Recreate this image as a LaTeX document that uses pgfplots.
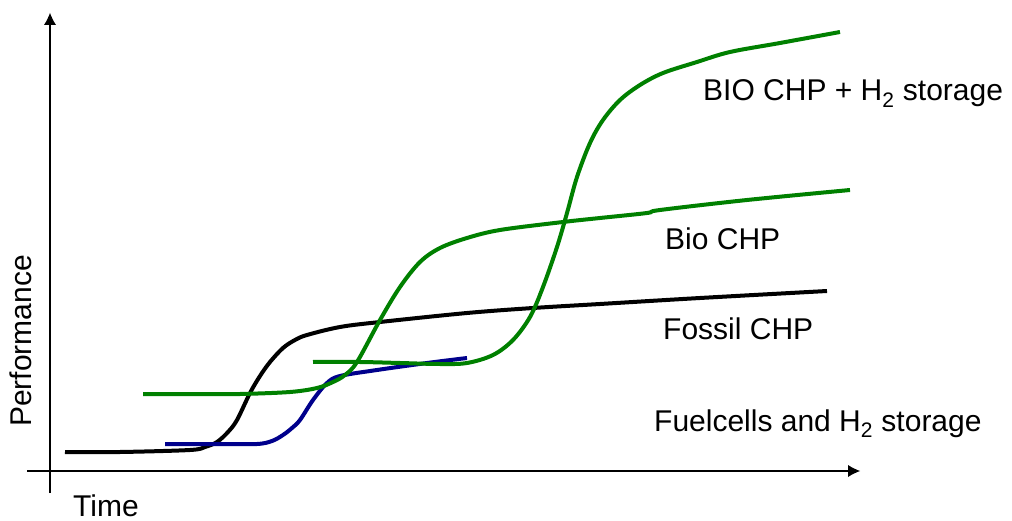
\documentclass[border=0pt]{standalone}
\usepackage{pgfplots}
\pgfplotsset{compat=1.18}
\usepackage{fontspec}
\setmainfont{Liberation Sans}
\usetikzlibrary{arrows.meta}
\definecolor{cgreen}{RGB}{0,128,0}
\definecolor{cblue}{RGB}{0,0,140}
\begin{document}
\begin{tikzpicture}
\begin{axis}[
  x=1pt, y=1pt, y dir=reverse,
  xmin=0, xmax=1012, ymin=0, ymax=521,
  hide axis, clip=false, scale only axis,
]
\path (axis cs:0,0) rectangle (axis cs:1012,521);
% axes
\draw[line width=2pt] (axis cs:50,493) -- (axis cs:50,25);
\draw[line width=2pt] (axis cs:27,471) -- (axis cs:848,471);
\draw[line width=0pt, -{Latex[length=12pt,width=12pt]}] (axis cs:50,30) -- (axis cs:50,13);
\draw[line width=0pt, -{Latex[length=12pt,width=12pt]}] (axis cs:840,471) -- (axis cs:860,471);
% Fossil CHP
\addplot[black, line width=4pt, smooth, tension=0.55] coordinates {
 (65,452) (120,452) (190,450) (205,447) (217,442) (228,432) (237,420) (250,393) (260,376) (270,362) (283,348) (295,340) (307,335) (340,327) (380,322) (467,313) (533,308) (600,304) (700,298) (827,291)};
% Fuelcells
\addplot[cblue, line width=4pt, smooth, tension=0.55] coordinates {
 (165,444) (220,444) (257,444) (272,441) (283,435) (292,428) (300,420) (313,400) (327,383) (340,376) (377,370) (427,363) (467,358)};
% Bio CHP
\addplot[cgreen, line width=4pt, smooth, tension=0.55] coordinates {
 (143,394) (200,394) (240,394) (290,392) (317,388) (333,382) (345,375) (357,362) (380,320) (400,287) (420,262) (440,248) (467,238) (500,230) (563,222) (600,218) (647,213) (660,210) (747,200) (850,190)};
% Bio CHP + H2
\addplot[cgreen, line width=4pt, smooth, tension=0.55] coordinates {
 (313,362) (360,362) (400,363) (440,364) (467,363) (493,355) (513,340) (530,317) (543,287) (557,247) (567,213) (577,177) (590,143) (603,120) (620,100) (640,85) (663,73) (697,62) (730,52) (780,43) (840,32)};
% labels
\node[anchor=base west, inner sep=0pt, font=\fontsize{30}{34}\selectfont] at (axis cs:703,101) {BIO CHP + H\textsubscript{2} storage};
\node[anchor=base west, inner sep=0pt, font=\fontsize{30}{34}\selectfont] at (axis cs:665,250) {Bio CHP};
\node[anchor=base west, inner sep=0pt, font=\fontsize{30}{34}\selectfont] at (axis cs:663,340) {Fossil CHP};
\node[anchor=base west, inner sep=0pt, font=\fontsize{30}{34}\selectfont] at (axis cs:654,431) {Fuelcells and H\textsubscript{2} storage};
\node[anchor=base west, inner sep=0pt, font=\fontsize{30}{34}\selectfont] at (axis cs:73,516) {Time};
\node[anchor=base west, rotate=90, inner sep=0pt, font=\fontsize{30}{34}\selectfont] at (axis cs:31,427) {Performance};
\end{axis}
\end{tikzpicture}
\end{document}
